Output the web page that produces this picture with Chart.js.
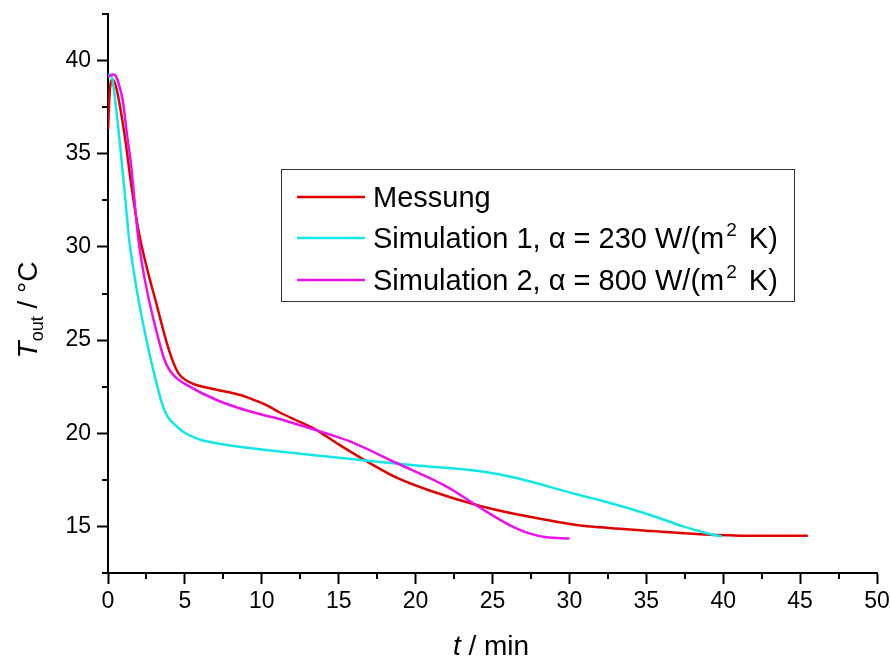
<!DOCTYPE html>
<html>
<head>
<meta charset="utf-8">
<script src="https://cdn.jsdelivr.net/npm/chart.js@4.4.1/dist/chart.umd.min.js"></script>
<style>
html, body { margin: 0; padding: 0; background: #fff; }
#wrap { width: 890px; height: 657px; }
</style>
</head>
<body>
<div id="wrap"><canvas id="myChart" width="890" height="657"></canvas></div>
<script>
// values (t in min, T in °C)
const messungX = [0, 0.12, 0.3, 0.55, 0.85, 1.15, 1.5, 2.0, 2.58, 3.1, 3.77, 4.2, 4.6, 5.4, 6.7, 8.6, 9.3, 10.2, 11.2, 12.5, 13.4, 15.0, 16.6, 18.8, 21.0, 24.2, 27.5, 30.7, 32.0, 35.3, 38.5, 41.8, 45.5];
const messungY = [36.3, 38.4, 39.0, 38.5, 37.2, 35.6, 33.4, 30.8, 28.7, 27.1, 25.0, 23.9, 23.2, 22.7, 22.4, 22.05, 21.85, 21.55, 21.1, 20.6, 20.25, 19.4, 18.6, 17.6, 16.9, 16.1, 15.5, 15.05, 14.95, 14.75, 14.58, 14.5, 14.5];

const sim1X = [0, 0.15, 0.3, 0.52, 0.84, 1.1, 1.36, 1.67, 2.0, 2.5, 3.0, 3.55, 3.9, 4.5, 4.94, 6.0, 6.7, 9.3, 12.5, 16.6, 19.9, 24.2, 26.4, 28.6, 30.7, 32.0, 35.3, 37.4, 39.0, 39.9];
const sim1Y = [39.2, 39.25, 38.9, 37.5, 35.0, 32.8, 30.5, 28.7, 27.1, 25.0, 23.2, 21.5, 20.86, 20.35, 20.05, 19.65, 19.52, 19.19, 18.9, 18.55, 18.28, 17.96, 17.63, 17.15, 16.67, 16.4, 15.6, 15.0, 14.62, 14.46];

const sim2X = [0, 0.15, 0.35, 0.55, 0.75, 0.95, 1.28, 1.5, 1.95, 2.25, 2.68, 3.3, 3.65, 3.95, 4.4, 5.0, 7.1, 9.3, 11.2, 12.5, 13.4, 15.6, 18.8, 22.1, 24.2, 26.4, 27.5, 28.5, 30.0];
const sim2Y = [39.1, 39.2, 39.25, 39.1, 38.6, 37.9, 35.75, 34.4, 30.6, 28.9, 27.1, 25.0, 24.0, 23.45, 23.0, 22.65, 21.77, 21.15, 20.75, 20.43, 20.2, 19.6, 18.39, 17.1, 16.0, 14.95, 14.6, 14.42, 14.35];

const xTicks = [0, 5, 10, 15, 20, 25, 30, 35, 40, 45, 50];
const yTicks = [15, 20, 25, 30, 35, 40];
const xMinor = [2.5, 7.5, 12.5, 17.5, 22.5, 27.5, 32.5, 37.5, 42.5, 47.5];
const yMinor = [12.5, 17.5, 22.5, 27.5, 32.5, 37.5, 42.5];

const labels = ['Messung', 'Simulation 1, α = 230 W/(m', 'Simulation 2, α = 800 W/(m'];
const colors = ['#e00000', '#12e6e6', '#ea12ea'];

const FONT = "'Liberation Sans', Arial, sans-serif";

function pts(xs, ys) {
    return xs.map((x, i) => ({ x: x, y: ys[i] }));
}

// minor ticks, legend box and axis titles
const extras = {
    id: 'extras',
    afterDraw(chart) {
        const ctx = chart.ctx;
        const xs = chart.scales.x, ys = chart.scales.y;
        const area = chart.chartArea;
        ctx.save();
        ctx.strokeStyle = '#000';
        ctx.lineWidth = 2;
        xMinor.forEach(v => {
            const px = Math.round(xs.getPixelForValue(v));
            ctx.beginPath();
            ctx.moveTo(px, area.bottom);
            ctx.lineTo(px, area.bottom + 6);
            ctx.stroke();
        });
        yMinor.forEach(v => {
            const py = Math.round(ys.getPixelForValue(v));
            ctx.beginPath();
            ctx.moveTo(area.left, py);
            ctx.lineTo(area.left - 6, py);
            ctx.stroke();
        });

        // legend
        ctx.lineWidth = 1;
        ctx.strokeStyle = '#333';
        ctx.strokeRect(281.5, 169.5, 513, 132);
        const rows = [197, 238, 280];
        chart.data.datasets.forEach((ds, i) => {
            ctx.strokeStyle = ds.borderColor;
            ctx.lineWidth = 2.5;
            ctx.beginPath();
            ctx.moveTo(297, rows[i]);
            ctx.lineTo(365, rows[i]);
            ctx.stroke();
            ctx.fillStyle = '#000';
            ctx.textBaseline = 'alphabetic';
            ctx.font = '29px ' + FONT;
            let x = 373;
            const base = rows[i] + 10;
            ctx.fillText(labels[i], x, base);
            if (i > 0) {
                x += ctx.measureText(labels[i]).width + 2;
                ctx.font = '19px ' + FONT;
                ctx.fillText('2', x, base - 12);
                x += ctx.measureText('2').width + 4;
                ctx.font = '29px ' + FONT;
                ctx.fillText(' K)', x, base);
            }
        });

        // y title: T_out / °C
        ctx.fillStyle = '#000';
        ctx.translate(37, 310);
        ctx.rotate(-Math.PI / 2);
        ctx.font = 'italic 28px ' + FONT;
        const wT = ctx.measureText('T').width;
        ctx.font = '18px ' + FONT;
        const wSub = ctx.measureText('out').width;
        ctx.font = '28px ' + FONT;
        const wRest = ctx.measureText(' / °C').width;
        let sx = -(wT + wSub + wRest) / 2;
        ctx.font = 'italic 28px ' + FONT;
        ctx.fillText('T', sx, 0);
        sx += wT;
        ctx.font = '18px ' + FONT;
        ctx.fillText('out', sx, 6);
        sx += wSub;
        ctx.font = '28px ' + FONT;
        ctx.fillText(' / °C', sx, 0);
        ctx.setTransform(1, 0, 0, 1, 0, 0);

        // x title: t / min
        ctx.font = 'italic 28px ' + FONT;
        const wt = ctx.measureText('t').width;
        ctx.font = '28px ' + FONT;
        const wm = ctx.measureText(' / min').width;
        let tx = 491 - (wt + wm) / 2;
        ctx.font = 'italic 28px ' + FONT;
        ctx.fillText('t', tx, 655);
        ctx.font = '28px ' + FONT;
        ctx.fillText(' / min', tx + wt, 655);
        ctx.restore();
    }
};

const lineStyle = {
    borderWidth: 2.5,
    pointRadius: 0,
    fill: false,
    cubicInterpolationMode: 'monotone'
};

const ctx = document.getElementById('myChart').getContext('2d');
const myChart = new Chart(ctx, {
    type: 'line',
    data: {
        datasets: [
            { ...lineStyle, label: 'Messung', data: pts(messungX, messungY), borderColor: colors[0], order: 3 },
            { ...lineStyle, label: 'Simulation 1', data: pts(sim1X, sim1Y), borderColor: colors[1], order: 2 },
            { ...lineStyle, label: 'Simulation 2', data: pts(sim2X, sim2Y), borderColor: colors[2], order: 1 }
        ]
    },
    options: {
        responsive: false,
        animation: false,
        layout: { padding: { top: 14, right: 13, left: 0, bottom: 0 } },
        plugins: {
            legend: { display: false },
            tooltip: { enabled: false }
        },
        scales: {
            x: {
                type: 'linear',
                min: 0,
                max: 50,
                afterBuildTicks: s => { s.ticks = xTicks.map(v => ({ value: v })); },
                afterFit: s => { s.height = 84; s.paddingLeft = 0; s.paddingRight = 0; },
                border: { display: true, color: '#000', width: 2 },
                grid: { drawOnChartArea: false, drawTicks: true, tickLength: 11, tickColor: '#000', tickWidth: 2 },
                ticks: { color: '#000', font: { family: FONT, size: 23 }, padding: 4, maxRotation: 0 }
            },
            y: {
                min: 12.5,
                max: 42.5,
                afterBuildTicks: s => { s.ticks = yTicks.map(v => ({ value: v })); },
                afterFit: s => { s.width = 108; s.paddingTop = 0; s.paddingBottom = 0; },
                border: { display: true, color: '#000', width: 2 },
                grid: { drawOnChartArea: false, drawTicks: true, tickLength: 11, tickColor: '#000', tickWidth: 2 },
                ticks: { color: '#000', font: { family: FONT, size: 23 }, padding: 6 }
            }
        }
    },
    plugins: [extras]
});
</script>
</body>
</html>
